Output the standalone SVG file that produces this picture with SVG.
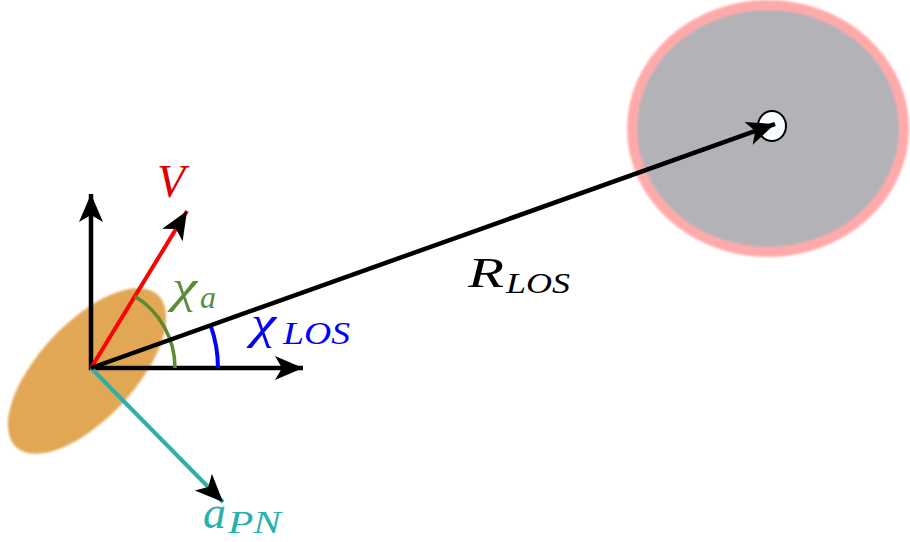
<svg xmlns="http://www.w3.org/2000/svg" width="910" height="542" viewBox="0 0 910 542">
<style>
  .lbl { font-family: "Liberation Serif", "DejaVu Serif", serif; font-style: italic; }
  .ax { stroke: #000; stroke-width: 4.5; fill: none; }
</style>
<defs>
  <marker id="ah" markerUnits="userSpaceOnUse" viewBox="-30 -13 32 26" refX="0" refY="0" markerWidth="32" markerHeight="26" orient="auto">
    <path d="M0,0 L-28,-12 L-21,0 L-28,12 Z" fill="#000"/>
  </marker>
  <filter id="soft" x="-5%" y="-5%" width="110%" height="110%"><feGaussianBlur stdDeviation="1"/></filter>
</defs>
<rect width="910" height="542" fill="#fff"/>
<g id="target">
  <ellipse cx="768" cy="128.5" rx="136" ry="123.5" fill="#b3b2b7" stroke="#ffaaaa" stroke-width="10" filter="url(#soft)"/>
  <ellipse cx="772" cy="126" rx="14" ry="15" fill="#f8fcff" stroke="#000" stroke-width="2"/>
</g>
<g id="vehicle">
  <ellipse cx="87" cy="371" rx="104" ry="48" transform="rotate(-47 87 371)" fill="#e1a754" filter="url(#soft)"/>
</g>
<g id="connectors">
  <line class="ax" x1="91" y1="370" x2="91" y2="194" marker-end="url(#ah)"/>
  <line class="ax" x1="89" y1="368" x2="303" y2="368" marker-end="url(#ah)"/>
  <line x1="91" y1="368" x2="187" y2="211" stroke="#ff0000" stroke-width="4" marker-end="url(#ah)"/>
  <line x1="91" y1="368" x2="223" y2="502" stroke="#2ab0ae" stroke-width="4" marker-end="url(#ah)"/>
  <path d="M134.8,296.3 A84,84 0 0 1 175,368" fill="none" stroke="#5a8a32" stroke-width="3.5"/>
  <path d="M210.6,325.4 A127,127 0 0 1 218,368" fill="none" stroke="#0000ff" stroke-width="4"/>
  <line class="ax" x1="91" y1="368" x2="775" y2="124" marker-end="url(#ah)"/>
</g>
<g id="labels">
  <text class="lbl" x="157" y="197" font-size="46" fill="#dd0000">V</text>
  <text class="lbl" x="172" y="302" font-size="46" fill="#5a8f3a" textLength="25" lengthAdjust="spacingAndGlyphs">χ</text>
  <text class="lbl" x="200" y="308" font-size="32" fill="#5a8f3a">a</text>
  <text class="lbl" x="251" y="338" font-size="46" fill="#0000ff" textLength="25" lengthAdjust="spacingAndGlyphs">χ</text>
  <text class="lbl" x="283" y="344" font-size="31" fill="#0000ff" textLength="67" lengthAdjust="spacingAndGlyphs">LOS</text>
  <text class="lbl" x="468" y="287" font-size="42" fill="#000" textLength="36" lengthAdjust="spacingAndGlyphs">R</text>
  <text class="lbl" x="506" y="293" font-size="30" fill="#000" textLength="64" lengthAdjust="spacingAndGlyphs">LOS</text>
  <text class="lbl" x="203" y="528" font-size="46" fill="#2ab0ae">a</text>
  <text class="lbl" x="228" y="533" font-size="31" fill="#2ab0ae" textLength="53" lengthAdjust="spacingAndGlyphs">PN</text>
</g>
</svg>
